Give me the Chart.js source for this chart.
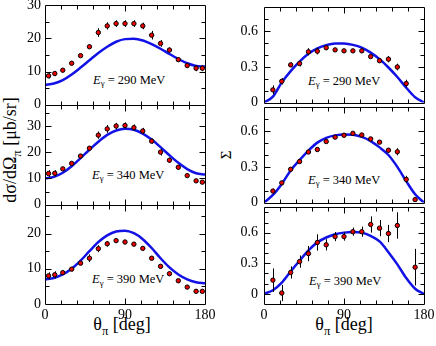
<!DOCTYPE html>
<html>
<head>
<meta charset="utf-8">
<script src="https://cdn.jsdelivr.net/npm/chart.js@4/dist/chart.umd.min.js"></script>
<style>
    html, body { margin: 0; padding: 0; background: #fff; }
    #page {
        position: relative; width: 436px; height: 346px; overflow: hidden;
        font-family: 'Liberation Serif', 'Times New Roman', serif; color: #000;
    }
    #page canvas { position: absolute; }
    .txt { position: absolute; white-space: nowrap; line-height: 1; font-family: 'Liberation Serif', 'Times New Roman', serif; }
    .rot { transform: translate(-50%, -50%) rotate(-90deg); }
    .sub { font-size: 70%; position: relative; top: 0.42em; }
    .ann { font-size: 12.5px; }
    .ann .sub { top: 0.3em; }
</style>
</head>
<body>
<div id="page">
    <div class="txt rot" style="left:9.5px; top:150px; font-size:18px;">dσ/dΩ<span class="sub">π</span> [μb/sr]</div>
    <div class="txt rot" style="left:226px; top:155px; font-size:15px;">Σ</div>
    <div class="txt" style="left:122px; top:314.5px; font-size:18px; transform:translateX(-50%);">θ<span class="sub">π</span> [deg]</div>
    <div class="txt" style="left:344px; top:314.5px; font-size:18px; transform:translateX(-50%);">θ<span class="sub">π</span> [deg]</div>
    <div class="txt ann" style="left:93px; top:73.5px;"><i>E</i><span class="sub">γ</span> = 290 MeV</div>
    <div class="txt ann" style="left:92px; top:168.5px;"><i>E</i><span class="sub">γ</span> = 340 MeV</div>
    <div class="txt ann" style="left:92px; top:273px;"><i>E</i><span class="sub">γ</span> = 390 MeV</div>
    <div class="txt ann" style="left:308px; top:74.5px;"><i>E</i><span class="sub">γ</span> = 290 MeV</div>
    <div class="txt ann" style="left:308px; top:173.5px;"><i>E</i><span class="sub">γ</span> = 340 MeV</div>
    <div class="txt ann" style="left:309px; top:274.5px;"><i>E</i><span class="sub">γ</span> = 390 MeV</div>
</div>
<script>
// pion angles of the cross-section data (deg)
var thetaSig = [4, 11, 20, 30, 40, 50, 60, 70, 80, 90, 100, 110, 120, 130, 140, 150, 160, 170, 177];
var sig290 = [8.7, 9.4, 10.4, 12.5, 14.8, 17.5, 21.8, 23.8, 24.5, 24.5, 24.5, 23.8, 21.0, 18.5, 16.5, 13.6, 11.8, 11.0, 11.0];
var sigErr290 = [0.8, 0.8, 0.5, 0.5, 0.5, 0.6, 1.3, 1.1, 1.0, 1.0, 1.0, 1.0, 1.3, 1.0, 0.8, 0.5, 0.5, 0.9, 0.9];
var sig340 = [11.9, 12.0, 13.7, 15.8, 18.6, 21.6, 26.6, 29.0, 30.1, 30.3, 29.5, 28.2, 24.3, 20.1, 17.0, 14.3, 11.1, 9.1, 8.6];
var sigErr340 = [1.3, 1.2, 0.6, 0.6, 0.6, 0.8, 1.4, 1.5, 1.2, 1.2, 1.2, 1.2, 1.0, 1.3, 1.0, 0.8, 0.6, 0.6, 0.6];
var sig390 = [8.0, 8.3, 8.9, 9.9, 11.6, 13.0, 15.7, 17.1, 18.0, 17.6, 17.0, 15.8, 13.0, 10.7, 8.6, 6.6, 4.8, 3.6, 3.6];
var sigErr390 = [1.0, 1.0, 0.6, 0.6, 0.6, 1.1, 1.0, 0.8, 0.6, 0.6, 0.6, 0.6, 0.6, 0.5, 0.5, 0.4, 0.4, 0.4, 0.4];

// beam asymmetry data
var theta290 = [10, 20, 30, 40, 50, 60, 70, 80, 90, 100, 110, 120, 130, 140, 150, 160];
var asym290 = [0.107, 0.179, 0.317, 0.328, 0.427, 0.432, 0.461, 0.443, 0.435, 0.435, 0.435, 0.387, 0.352, 0.365, 0.299, 0.16];
var asymErr290 = [0.037, 0.027, 0.02, 0.024, 0.03, 0.027, 0.015, 0.015, 0.015, 0.015, 0.015, 0.018, 0.018, 0.027, 0.028, 0.032];
var theta340 = [10, 20, 30, 40, 50, 60, 70, 80, 90, 100, 110, 120, 130, 140, 150, 160, 170];
var asym340 = [0.097, 0.166, 0.28, 0.345, 0.425, 0.446, 0.513, 0.55, 0.566, 0.582, 0.568, 0.535, 0.508, 0.44, 0.427, 0.195, 0.025];
var asymErr340 = [0.02, 0.015, 0.012, 0.012, 0.012, 0.015, 0.012, 0.012, 0.012, 0.012, 0.012, 0.012, 0.015, 0.02, 0.03, 0.03, 0.015];
var theta390 = [10, 20, 30, 40, 50, 60, 70, 80, 90, 100, 110, 120, 130, 140, 150, 170];
var asym390 = [0.135, 0.008, 0.21, 0.317, 0.396, 0.505, 0.482, 0.563, 0.563, 0.611, 0.611, 0.682, 0.646, 0.593, 0.672, 0.262];
var asymErr390 = [0.115, 0.08, 0.06, 0.06, 0.075, 0.08, 0.055, 0.045, 0.04, 0.04, 0.05, 0.08, 0.08, 0.085, 0.13, 0.18];

// model curves, read every 10 deg
var thetaCurve = [0, 10, 20, 30, 40, 50, 60, 70, 80, 90, 100, 110, 120, 130, 140, 150, 160, 170, 180];
var sigCurve290 = [6.0, 6.4, 7.4, 9.1, 11.2, 13.4, 15.6, 17.5, 19.0, 19.8, 19.9, 19.4, 18.3, 16.9, 15.3, 13.8, 12.5, 11.7, 11.5];
var sigCurve340 = [10.0, 10.6, 12.2, 14.7, 17.8, 21.0, 24.1, 26.7, 28.4, 29.1, 28.7, 27.2, 24.9, 22.0, 18.9, 16.0, 13.6, 12.0, 11.5];
var sigCurve390 = [7.0, 7.4, 8.4, 10.0, 12.3, 15.0, 17.6, 19.5, 20.6, 20.8, 20.1, 18.4, 15.9, 13.0, 10.4, 8.4, 7.0, 6.2, 5.9];
var asymCurve290 = [0, 0.05, 0.17, 0.265, 0.345, 0.41, 0.455, 0.483, 0.497, 0.496, 0.485, 0.462, 0.42, 0.365, 0.295, 0.215, 0.125, 0.045, 0];
var asymCurve340 = [0, 0.064, 0.157, 0.27, 0.357, 0.437, 0.504, 0.544, 0.565, 0.573, 0.571, 0.552, 0.517, 0.464, 0.40, 0.30, 0.18, 0.07, 0];
var asymCurve390 = [0, 0.035, 0.11, 0.22, 0.325, 0.427, 0.506, 0.554, 0.586, 0.602, 0.608, 0.602, 0.57, 0.516, 0.41, 0.29, 0.155, 0.05, 0];

// tick labels
var xTickLabels = [0, 90, 180];
var sigTicks = [0, 10, 20, 30];
var sigTicksLow = [0, 10, 20];
var asymTicks = [0, 0.3, 0.6];

(function () {
    'use strict';

    var colX = [[45, 205], [264, 424]];
    var rowY = [[5, 105], [105, 205], [205, 304]];

    var panels = [
        { col: 0, row: 0, x: thetaSig, y: sig290, err: sigErr290, curve: sigCurve290, min: 0, max: 30, ticks: sigTicks, minor: 5, major: 10 },
        { col: 0, row: 1, x: thetaSig, y: sig340, err: sigErr340, curve: sigCurve340, min: 0, max: 38, ticks: sigTicks, minor: 5, major: 10 },
        { col: 0, row: 2, x: thetaSig, y: sig390, err: sigErr390, curve: sigCurve390, min: 0, max: 28, ticks: sigTicksLow, minor: 5, major: 10 },
        { col: 1, row: 0, x: theta290, y: asym290, err: asymErr290, curve: asymCurve290, min: 0, max: 0.8, ticks: asymTicks, minor: 0.1, major: 0.3 },
        { col: 1, row: 1, x: theta340, y: asym340, err: asymErr340, curve: asymCurve340, min: 0, max: 0.8, ticks: asymTicks, minor: 0.1, major: 0.3 },
        { col: 1, row: 2, x: theta390, y: asym390, err: asymErr390, curve: asymCurve390, min: -0.1, max: 0.85, ticks: asymTicks, minor: 0.1, major: 0.3 }
    ];

    // box round the panel with inward ticks on all four sides
    function drawFrame(chart) {
        var ds = chart.data.datasets[0];
        var xs = chart.scales.x, ys = chart.scales.y, a = chart.chartArea;
        var ctx = chart.ctx;
        var L = Math.round(a.left) + 0.5, R = Math.round(a.right) + 0.5;
        var T = Math.round(a.top) + 0.5, B = Math.round(a.bottom) + 0.5;
        var big = 6, small = 4;
        ctx.save();
        ctx.strokeStyle = '#000';
        ctx.lineWidth = 1;
        ctx.beginPath();
        ctx.moveTo(L, T); ctx.lineTo(R, T); ctx.lineTo(R, B); ctx.lineTo(L, B); ctx.closePath();
        var k, v, px, len;
        for (k = 1; k < 10; k++) {
            v = k * 18;
            px = Math.round(xs.getPixelForValue(v)) + 0.5;
            len = (v % 90 === 0) ? big : small;
            ctx.moveTo(px, B); ctx.lineTo(px, B - len);
            ctx.moveTo(px, T); ctx.lineTo(px, T + len);
        }
        var k0 = Math.ceil(ys.min / ds.minorStep - 1e-6), k1 = Math.floor(ys.max / ds.minorStep + 1e-6);
        for (k = k0; k <= k1; k++) {
            v = k * ds.minorStep;
            var q = v / ds.majorStep;
            len = Math.abs(q - Math.round(q)) < 1e-6 ? big : small;
            px = Math.round(ys.getPixelForValue(v)) + 0.5;
            if (px <= T + 0.5 || px >= B - 0.5) continue;
            ctx.moveTo(L, px); ctx.lineTo(L + len, px);
            ctx.moveTo(R, px); ctx.lineTo(R - len, px);
        }
        ctx.stroke();
        ctx.restore();
    }

    // error bars under the markers, frame on top of everything
    var framePlugin = {
        id: 'panelFrame',
        beforeDatasetDraw: function (chart, args) {
            if (args.index !== 0) return;
            var ds = chart.data.datasets[0];
            var xs = chart.scales.x, ys = chart.scales.y, a = chart.chartArea;
            var ctx = chart.ctx;
            ctx.save();
            ctx.beginPath();
            ctx.rect(a.left, a.top, a.right - a.left, a.bottom - a.top);
            ctx.clip();
            ctx.strokeStyle = '#000';
            ctx.lineWidth = 1;
            ctx.beginPath();
            ds.data.forEach(function (p, i) {
                var px = Math.round(xs.getPixelForValue(p.x)) + 0.5;
                ctx.moveTo(px, ys.getPixelForValue(p.y - ds.errors[i]));
                ctx.lineTo(px, ys.getPixelForValue(p.y + ds.errors[i]));
            });
            ctx.stroke();
            ctx.restore();
        },
        afterDatasetsDraw: function (chart) {
            drawFrame(chart);
        }
    };

    function tickList(values) {
        return function (scale) {
            scale.ticks = values.map(function (v) { return { value: v }; });
        };
    }

    function initPanels() {
        if (typeof Chart === 'undefined') return;
        Chart.defaults.font.family = "'Liberation Serif', 'Times New Roman', serif";
        Chart.defaults.font.size = 14;
        Chart.defaults.color = '#000';

        var page = document.getElementById('page');

        panels.forEach(function (p) {
            var plotL = colX[p.col][0], plotR = colX[p.col][1];
            var plotT = rowY[p.row][0], plotB = rowY[p.row][1];
            var bottomRow = p.row === 2;
            var cvL = p.col === 0 ? 0 : 218, cvW = 222;
            var axisW = plotL - cvL;
            var cvT = plotT - 12;
            var cvH = (plotB - plotT) + 24 + (bottomRow ? 24 : 0);

            var cv = document.createElement('canvas');
            cv.width = cvW;
            cv.height = cvH;
            cv.style.left = cvL + 'px';
            cv.style.top = cvT + 'px';
            cv.style.width = cvW + 'px';
            cv.style.height = cvH + 'px';
            page.appendChild(cv);

            var points = p.x.map(function (t, i) { return { x: t, y: p.y[i] }; });
            var line = thetaCurve.map(function (t, i) { return { x: t, y: p.curve[i] }; });

            new Chart(cv, {
                type: 'scatter',
                data: {
                    datasets: [{
                        data: points,
                        errors: p.err,
                        minorStep: p.minor,
                        majorStep: p.major,
                        pointRadius: 2.2,
                        pointBackgroundColor: '#ee0000',
                        pointBorderColor: '#000',
                        pointBorderWidth: 1,
                        showLine: false,
                        order: 0
                    }, {
                        type: 'line',
                        data: line,
                        borderColor: '#1212e6',
                        borderWidth: 2.5,
                        pointRadius: 0,
                        cubicInterpolationMode: 'monotone',
                        fill: false,
                        order: 1
                    }]
                },
                options: {
                    responsive: false,
                    animation: false,
                    events: [],
                    layout: { padding: { left: 0, right: cvL + cvW - plotR, top: 12, bottom: 12 } },
                    plugins: {
                        legend: { display: false },
                        tooltip: { enabled: false }
                    },
                    scales: {
                        x: {
                            type: 'linear',
                            min: 0,
                            max: 180,
                            display: bottomRow,
                            grid: { display: false, drawTicks: false },
                            border: { display: false },
                            ticks: { autoSkip: false, maxRotation: 0, padding: 3, callback: function (v) { return String(v); } },
                            afterBuildTicks: tickList(xTickLabels),
                            afterFit: function (s) { if (bottomRow) s.height = 24; }
                        },
                        y: {
                            type: 'linear',
                            min: p.min,
                            max: p.max,
                            grid: { display: false, drawTicks: false },
                            border: { display: false },
                            ticks: { autoSkip: false, padding: p.col === 0 ? 4 : 6, callback: function (v) { return String(v); } },
                            afterBuildTicks: tickList(p.ticks),
                            afterFit: function (s) { s.width = axisW; }
                        }
                    }
                },
                plugins: [framePlugin]
            });
        });
    }

    document.addEventListener('DOMContentLoaded', initPanels);
})();
</script>
</body>
</html>
